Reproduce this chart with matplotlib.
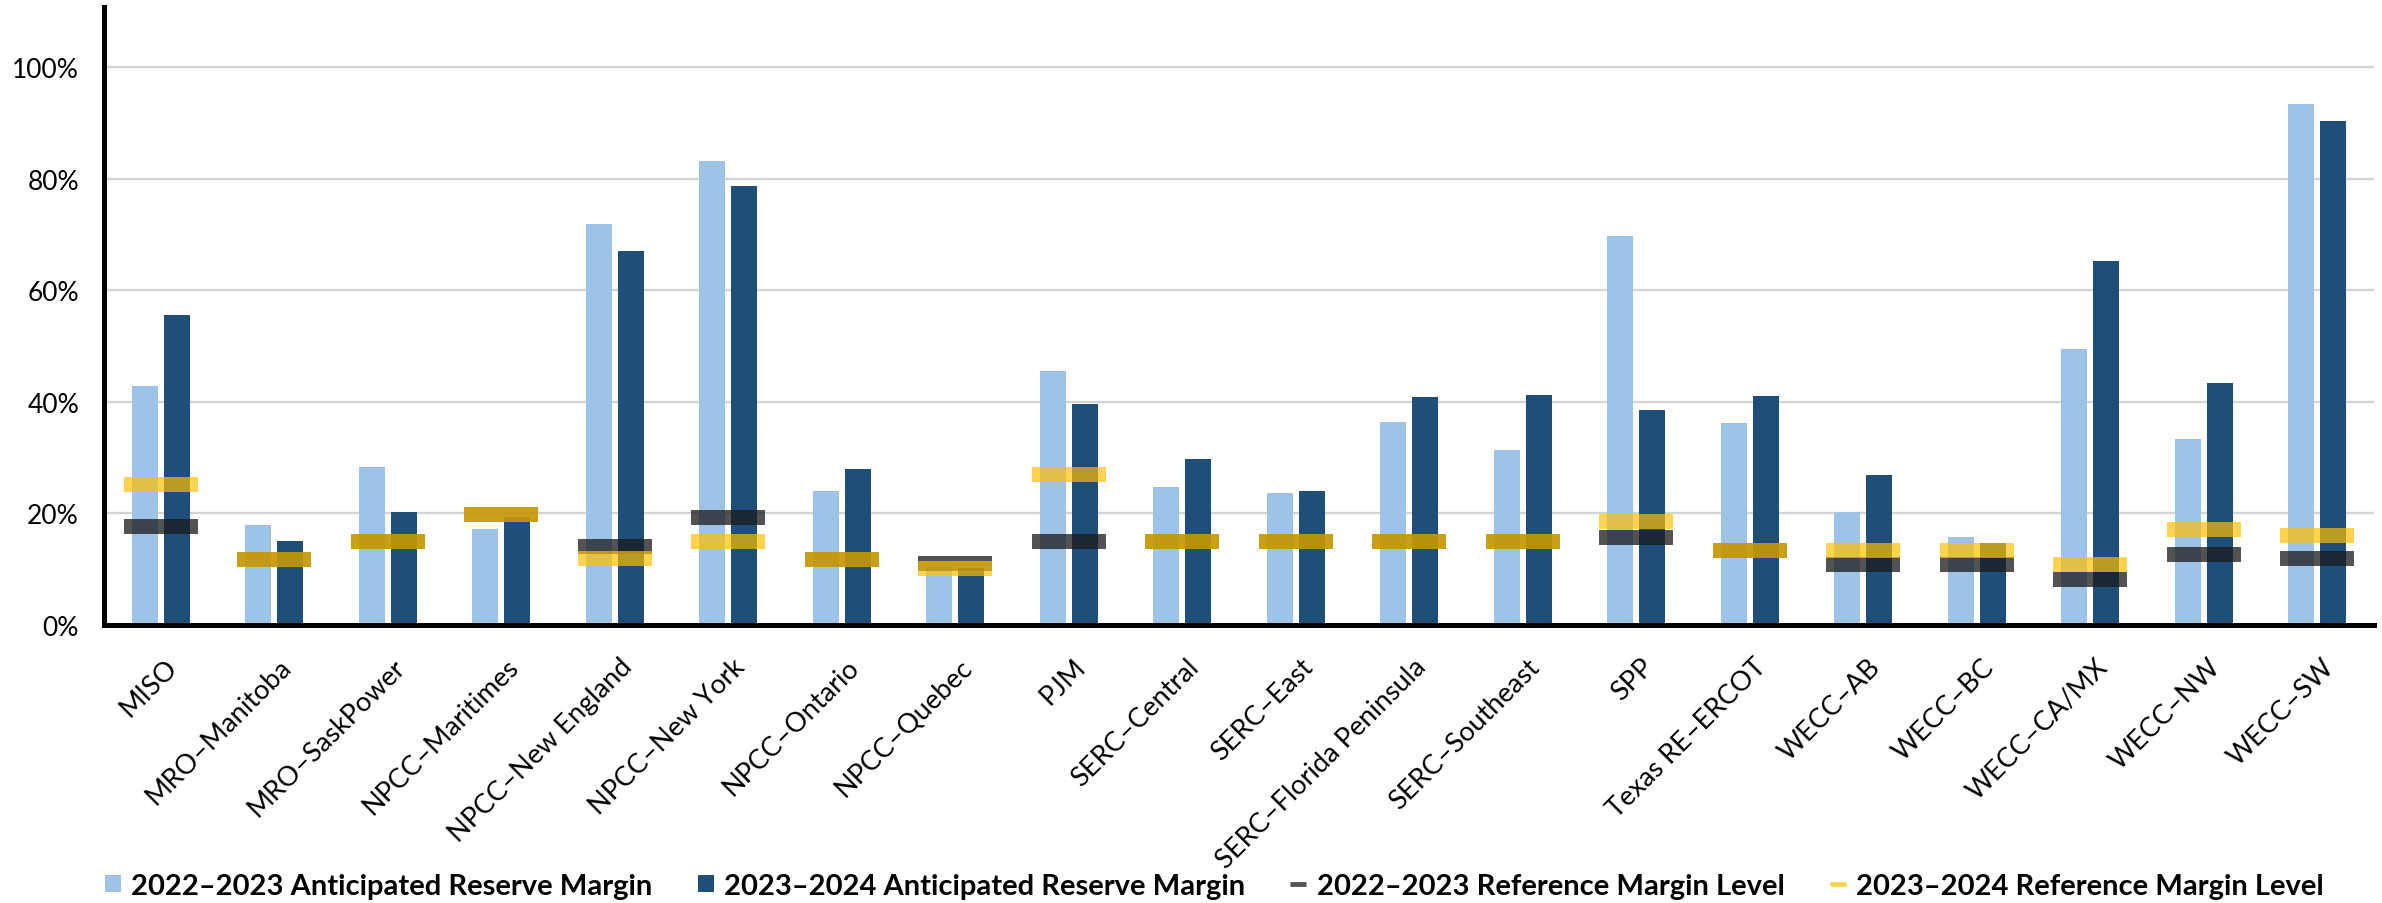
import matplotlib
matplotlib.use("Agg")
import matplotlib.pyplot as plt
import numpy as np
from matplotlib.patches import Patch
from matplotlib.lines import Line2D
from matplotlib.transforms import ScaledTranslation

plt.rcParams['font.family'] = ['Lato', 'DejaVu Sans']

categories = ["MISO", "MRO\u2013Manitoba", "MRO\u2013SaskPower", "NPCC\u2013Maritimes",
              "NPCC\u2013New England", "NPCC\u2013New York", "NPCC\u2013Ontario", "NPCC\u2013Quebec",
              "PJM", "SERC\u2013Central", "SERC\u2013East", "SERC\u2013Florida Peninsula",
              "SERC\u2013Southeast", "SPP", "Texas RE\u2013ERCOT", "WECC\u2013AB", "WECC\u2013BC",
              "WECC\u2013CA/MX", "WECC\u2013NW", "WECC\u2013SW"]

arm_2022 = [42.9, 17.9, 28.4, 17.2, 71.8, 83.1, 24.1, 10.5, 45.6, 24.7,
            23.6, 36.4, 31.4, 69.8, 36.2, 20.3, 15.8, 49.5, 33.4, 93.3]
arm_2023 = [55.6, 15.0, 20.3, 19.4, 67.0, 78.7, 28.0, 10.2, 39.6, 29.8,
            24.1, 40.8, 41.3, 38.5, 41.0, 26.8, 14.7, 65.2, 43.3, 90.4]
ref_2022 = [17.7, 11.8, 15.0, 19.8, 14.0, 19.3, 11.7, 11.1, 15.0, 15.0,
            15.0, 15.0, 15.0, 15.6, 13.4, 10.8, 10.8, 8.1, 12.7, 12.0]
ref_2023 = [25.2, 11.8, 15.0, 19.8, 11.9, 15.0, 11.7, 10.2, 26.9, 15.0,
            15.0, 15.0, 15.0, 18.6, 13.4, 13.4, 13.4, 10.8, 17.2, 16.1]

series_labels = ["2022\u20132023 Anticipated Reserve Margin",
                 "2023\u20132024 Anticipated Reserve Margin",
                 "2022\u20132023 Reference Margin Level",
                 "2023\u20132024 Reference Margin Level"]

LIGHT = "#9DC3E6"
DARK = "#1F4E79"
GRAY = "#1a1a1a"
GOLD = "#FFC000"

W, H = 2382, 904
fig = plt.figure(figsize=(W / 100, H / 100), dpi=100)
ax = fig.add_axes([104 / W, (H - 626) / H, (2374 - 104) / W, 618 / H])

x = np.arange(len(categories))
a22 = np.array(arm_2022) / 100
a23 = np.array(arm_2023) / 100
r22 = np.array(ref_2022) / 100
r23 = np.array(ref_2023) / 100

bw = 0.225
off = 0.141
ax.bar(x - off, a22, width=bw, color=LIGHT, zorder=2, linewidth=0)
ax.bar(x + off, a23, width=bw, color=DARK, zorder=2, linewidth=0)

band_h = 0.0269
band_w = 0.652
ax.bar(x, band_h, bottom=r22 - band_h / 2, width=band_w, color=GRAY, alpha=0.75,
       zorder=3, linewidth=0)
ax.bar(x, band_h, bottom=r23 - band_h / 2, width=band_w, color=GOLD, alpha=0.69,
       zorder=4, linewidth=0)

ax.set_xlim(-0.5, 19.5)
ax.set_ylim(0, 618 / 558)
ax.set_yticks([0, 0.2, 0.4, 0.6, 0.8, 1.0])
ax.set_yticklabels(["0%", "20%", "40%", "60%", "80%", "100%"], fontsize=19)
ax.yaxis.grid(True, color="#D4D4D4", linewidth=1.7)
ax.set_axisbelow(True)

for s in ["top", "right"]:
    ax.spines[s].set_visible(False)
for s in ["left", "bottom"]:
    ax.spines[s].set_linewidth(3.6)
    ax.spines[s].set_color("black")

ax.set_xticks(x)
ax.set_xticklabels(categories, fontsize=19.5, rotation=45, ha="right", va="center",
                   rotation_mode="anchor")
ax.tick_params(axis="x", length=0, pad=27)
ax.tick_params(axis="y", length=0, pad=18)
shift = ScaledTranslation(0.13, 0, fig.dpi_scale_trans)
for lab in ax.get_xticklabels():
    lab.set_transform(lab.get_transform() + shift)

handles = [Patch(facecolor=LIGHT, edgecolor="none"),
           Patch(facecolor=DARK, edgecolor="none"),
           Line2D([0], [0], color=GRAY, alpha=0.75, lw=3.5, solid_capstyle="butt"),
           Line2D([0], [0], color=GOLD, alpha=0.69, lw=3.5, solid_capstyle="butt")]
fig.legend(handles, series_labels, loc="center", bbox_to_anchor=(0.5098, 0.019),
           bbox_transform=fig.transFigure, ncol=4, frameon=False,
           prop={"family": ["Lato", "DejaVu Sans"], "weight": "bold", "size": 21},
           handlelength=0.55, handleheight=0.55, handletextpad=0.35,
           columnspacing=1.55, borderpad=0.1)

fig.savefig("out.png", dpi=100)
